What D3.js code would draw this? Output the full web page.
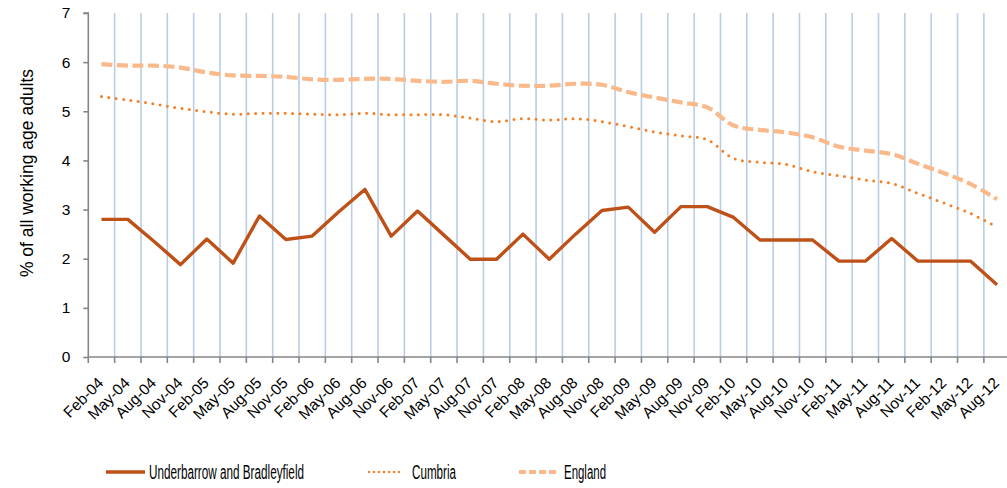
<!DOCTYPE html>
<html><head><meta charset="utf-8">
<script src="https://cdn.jsdelivr.net/npm/d3@7"></script>
<style>body{margin:0;background:#fff;overflow:hidden;} svg{display:block;} text{font-family:"Liberation Sans",Arial,sans-serif;fill:#000;}</style>
</head><body>
<svg id="c" width="1007" height="488"></svg>
<script>
const categories = ["Feb-04","May-04","Aug-04","Nov-04","Feb-05","May-05","Aug-05","Nov-05","Feb-06","May-06","Aug-06","Nov-06","Feb-07","May-07","Aug-07","Nov-07","Feb-08","May-08","Aug-08","Nov-08","Feb-09","May-09","Aug-09","Nov-09","Feb-10","May-10","Aug-10","Nov-10","Feb-11","May-11","Aug-11","Nov-11","Feb-12","May-12","Aug-12"];
const underbarrow = [2.8,2.8,2.35,1.88,2.4,1.91,2.87,2.39,2.46,2.95,3.41,2.46,2.97,2.48,1.99,1.99,2.5,1.99,2.5,2.98,3.05,2.54,3.06,3.06,2.84,2.38,2.38,2.38,1.95,1.95,2.41,1.95,1.95,1.95,1.47];
const cumbria = [5.30,5.23,5.15,5.06,4.99,4.94,4.96,4.96,4.94,4.93,4.96,4.93,4.93,4.93,4.86,4.79,4.85,4.82,4.85,4.79,4.69,4.58,4.50,4.42,4.04,3.96,3.92,3.77,3.69,3.60,3.53,3.33,3.13,2.92,2.64];
const england = [5.96,5.93,5.93,5.89,5.79,5.73,5.72,5.70,5.65,5.64,5.66,5.66,5.62,5.60,5.62,5.56,5.52,5.52,5.56,5.54,5.39,5.28,5.18,5.08,4.71,4.62,4.57,4.47,4.28,4.20,4.13,3.93,3.74,3.52,3.21];
const yTicks = [0,1,2,3,4,5,6,7];
const seriesNames = ["Underbarrow and Bradleyfield","Cumbria","England"];
const yTitle = "% of all working age adults";

const svg = d3.select("#c");
const pL = 88.3, pR = 1010.2, pT = 13, pB = 357;
const x = d3.scaleBand().domain(categories).range([pL, pR]).padding(0);
const y = d3.scaleLinear().domain([0, 7]).range([pB, pT]);

svg.append("g").selectAll("line").data(categories.slice(1)).join("line")
  .attr("x1", d => x(d)).attr("x2", d => x(d))
  .attr("y1", pT).attr("y2", pB)
  .attr("stroke", "#B9CDE5").attr("stroke-width", 1.6);

const ya = svg.append("g").attr("transform", `translate(${pL},0)`)
  .call(d3.axisLeft(y).tickValues(yTicks).tickFormat(d3.format("d")).tickSize(5).tickPadding(13));
ya.select(".domain").attr("stroke", "#868686").attr("stroke-width", 1.6).attr("d", `M-5,${pT}H0V${pB}`);
ya.selectAll(".tick line").attr("stroke", "#868686").attr("stroke-width", 1.6);
ya.selectAll(".tick text").attr("font-size", 15.5).attr("font-family", "Liberation Sans, Arial, sans-serif").attr("fill", "#000");

const xa = svg.append("g").attr("transform", `translate(0,${pB})`);
xa.append("line").attr("x1", pL).attr("x2", pR).attr("y1", 0).attr("y2", 0)
  .attr("stroke", "#868686").attr("stroke-width", 1.6);
xa.selectAll("line.tk").data(categories).join("line").attr("class", "tk")
  .attr("x1", d => x(d)).attr("x2", d => x(d)).attr("y1", 0).attr("y2", 6)
  .attr("stroke", "#868686").attr("stroke-width", 1.6);
xa.selectAll("text.lb").data(categories).join("text").attr("class", "lb")
  .attr("transform", d => `translate(${x(d) + x.bandwidth() / 2 + 3},${27}) rotate(-45)`)
  .attr("text-anchor", "end").attr("font-size", 15.5).text(d => d);

svg.append("text").attr("transform", `translate(33,173) rotate(-90)`)
  .attr("text-anchor", "middle").attr("font-size", 17.5).text(yTitle);

const cx = d => x(d) + x.bandwidth() / 2;
const lineStraight = d3.line().x((d, i) => cx(categories[i])).y(d => y(d));
const lineSmooth = d3.line().x((d, i) => cx(categories[i])).y(d => y(d)).curve(d3.curveCatmullRom.alpha(0.5));

const styles = [
  {stroke: "#BE5117", width: 3.4},
  {stroke: "#F58025", width: 3, dash: "0,7.4"},
  {stroke: "#FAB98A", width: 4.2, dash: "11,4.5"}
];

svg.append("path").datum(england).attr("d", lineSmooth).attr("fill", "none")
  .attr("stroke", styles[2].stroke).attr("stroke-width", styles[2].width).attr("stroke-dasharray", styles[2].dash);
svg.append("path").datum(cumbria).attr("d", lineSmooth).attr("fill", "none")
  .attr("stroke", styles[1].stroke).attr("stroke-width", styles[1].width).attr("stroke-dasharray", styles[1].dash)
  .attr("stroke-linecap", "round");
svg.append("path").datum(underbarrow).attr("d", lineStraight).attr("fill", "none")
  .attr("stroke", styles[0].stroke).attr("stroke-width", styles[0].width).attr("stroke-linejoin", "round");

const legendPos = [{x0: 106, x1: 145, tx: 149, tw: 155}, {x0: 369, x1: 403, tx: 412, tw: 44}, {x0: 519, x1: 559, tx: 564, tw: 42}];
const ly = 472;
seriesNames.forEach((name, i) => {
  const p = legendPos[i], s = styles[i];
  svg.append("line").attr("x1", p.x0).attr("x2", p.x1).attr("y1", ly).attr("y2", ly)
    .attr("stroke", s.stroke).attr("stroke-width", i === 2 ? 4 : (i === 0 ? 3.5 : 2.6))
    .attr("stroke-dasharray", i === 1 ? "0,5" : (i === 2 ? "7,3" : null))
    .attr("stroke-linecap", i === 1 ? "round" : "butt");
  svg.append("text").attr("x", p.tx).attr("y", ly).attr("dy", "0.36em")
    .attr("font-size", 19.5).attr("textLength", p.tw).attr("lengthAdjust", "spacingAndGlyphs").text(name);
});
</script>
</body></html>
